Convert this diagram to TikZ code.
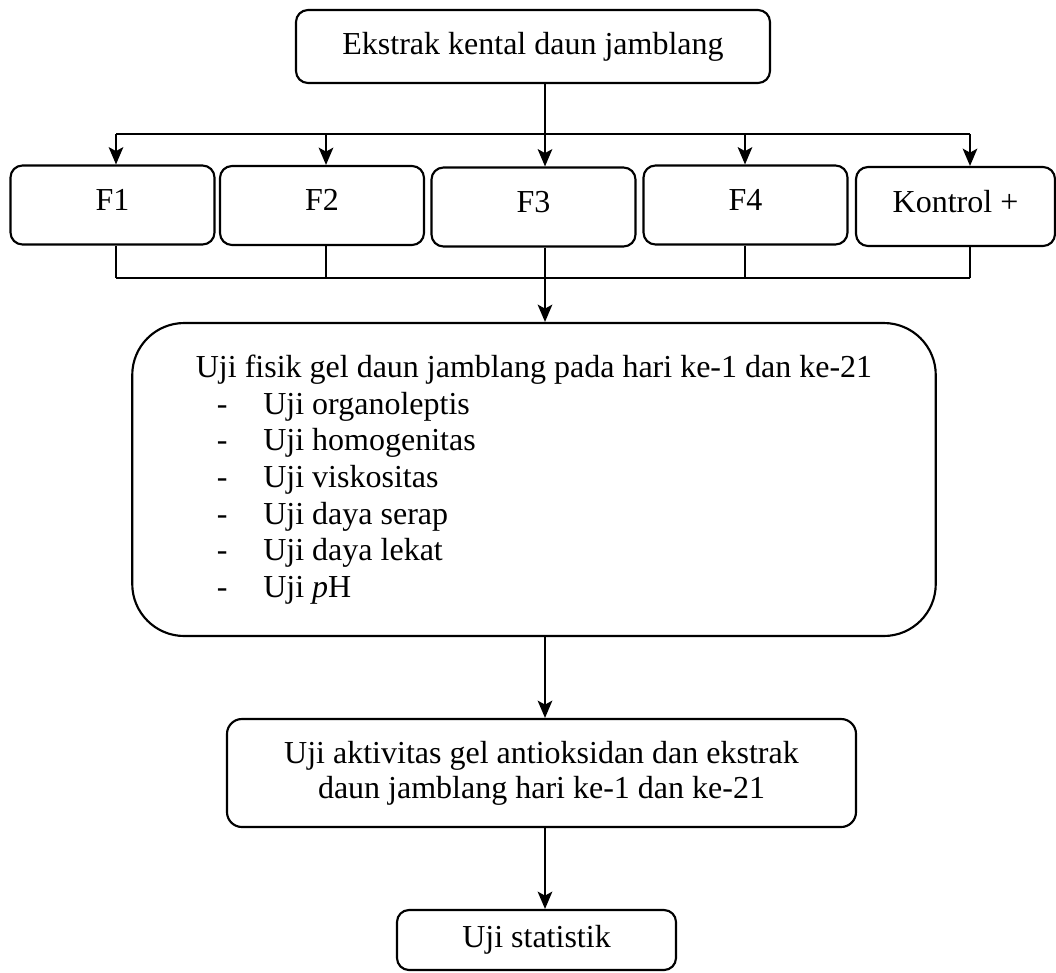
\documentclass[tikz,border=0pt]{standalone}
\usepackage{fontspec}
\setmainfont{Liberation Serif}
\usetikzlibrary{arrows.meta}
\newlength\px
\setlength\px{0.375pt}
\tikzset{
  kotak/.style={draw, line width=0.8pt, rounded corners=4.5pt, inner sep=0pt,
    font=\fontsize{12}{13.75}\selectfont},
  formula/.style={kotak, minimum width=204\px, minimum height=79\px, text depth=4pt},
  panah/.style={line width=0.6pt, -{Stealth[length=6.5pt,width=5.5pt,inset=1.5pt]}},
  garis/.style={line width=0.6pt},
}
\newcommand{\ujiitem}[1]{\makebox[25.3pt][l]{\hspace{7.9pt}-}#1}

\begin{document}
\begin{tikzpicture}[x=0.375pt, y=-0.375pt]
  \useasboundingbox (0,0) rectangle (1056,972);
  \node[kotak, minimum width=474\px, minimum height=73\px] (ekstrak) at (533,46.5) {Ekstrak kental daun jamblang};
  \node[formula] (f1) at (112.5,205) {F1};
  \node[formula] (f2) at (322,205.5) {F2};
  \node[formula] (f3) at (533.5,207) {F3};
  \node[formula] (f4) at (745.5,205) {F4};
  \node[formula, minimum width=199\px] (kontrol) at (955.5,206.5) {Kontrol +};
  \node[kotak, rounded corners=19.5pt, minimum width=803.5\px, minimum height=313\px, align=left] (fisik) at (534,479.5)
    {Uji fisik gel daun jamblang pada hari ke-1 dan ke-21\\
     \ujiitem{Uji organoleptis}\\
     \ujiitem{Uji homogenitas}\\
     \ujiitem{Uji viskositas}\\
     \ujiitem{Uji daya serap}\\
     \ujiitem{Uji daya lekat}\\
     \ujiitem{Uji \textit{p}H}};
  \node[kotak, rounded corners=5.6pt, minimum width=629\px, minimum height=108\px, align=center,
    font=\fontsize{12}{13.1}\selectfont] (aktiv) at (541.5,773)
    {Uji aktivitas gel antioksidan dan ekstrak\\daun jamblang hari ke-1 dan ke-21};
  \node[kotak, minimum width=279\px, minimum height=60\px] (stat) at (536.5,940) {Uji statistik};
  % percabangan ke formula
  \foreach \nm/\ax in {f1/116, f2/326, f3/545, f4/745, kontrol/970} {
    \coordinate (a\nm) at (\ax,134);
    \coordinate (b\nm) at (\ax,278);
    \draw[panah] (a\nm) -- (\nm.north -| a\nm);
    \draw[garis] (\nm.south -| b\nm) -- (b\nm);
  }
  \draw[garis] (af1) -- (akontrol);
  \draw[garis] (bf1) -- (bkontrol);
  \draw[garis] (ekstrak.south -| af3) -- (af3);
  \draw[panah] (bf3) -- (fisik.north -| bf3);
  \draw[panah] (fisik.south -| af3) -- (aktiv.north -| af3);
  \draw[panah] (aktiv.south -| af3) -- (stat.north -| af3);
\end{tikzpicture}
\end{document}
